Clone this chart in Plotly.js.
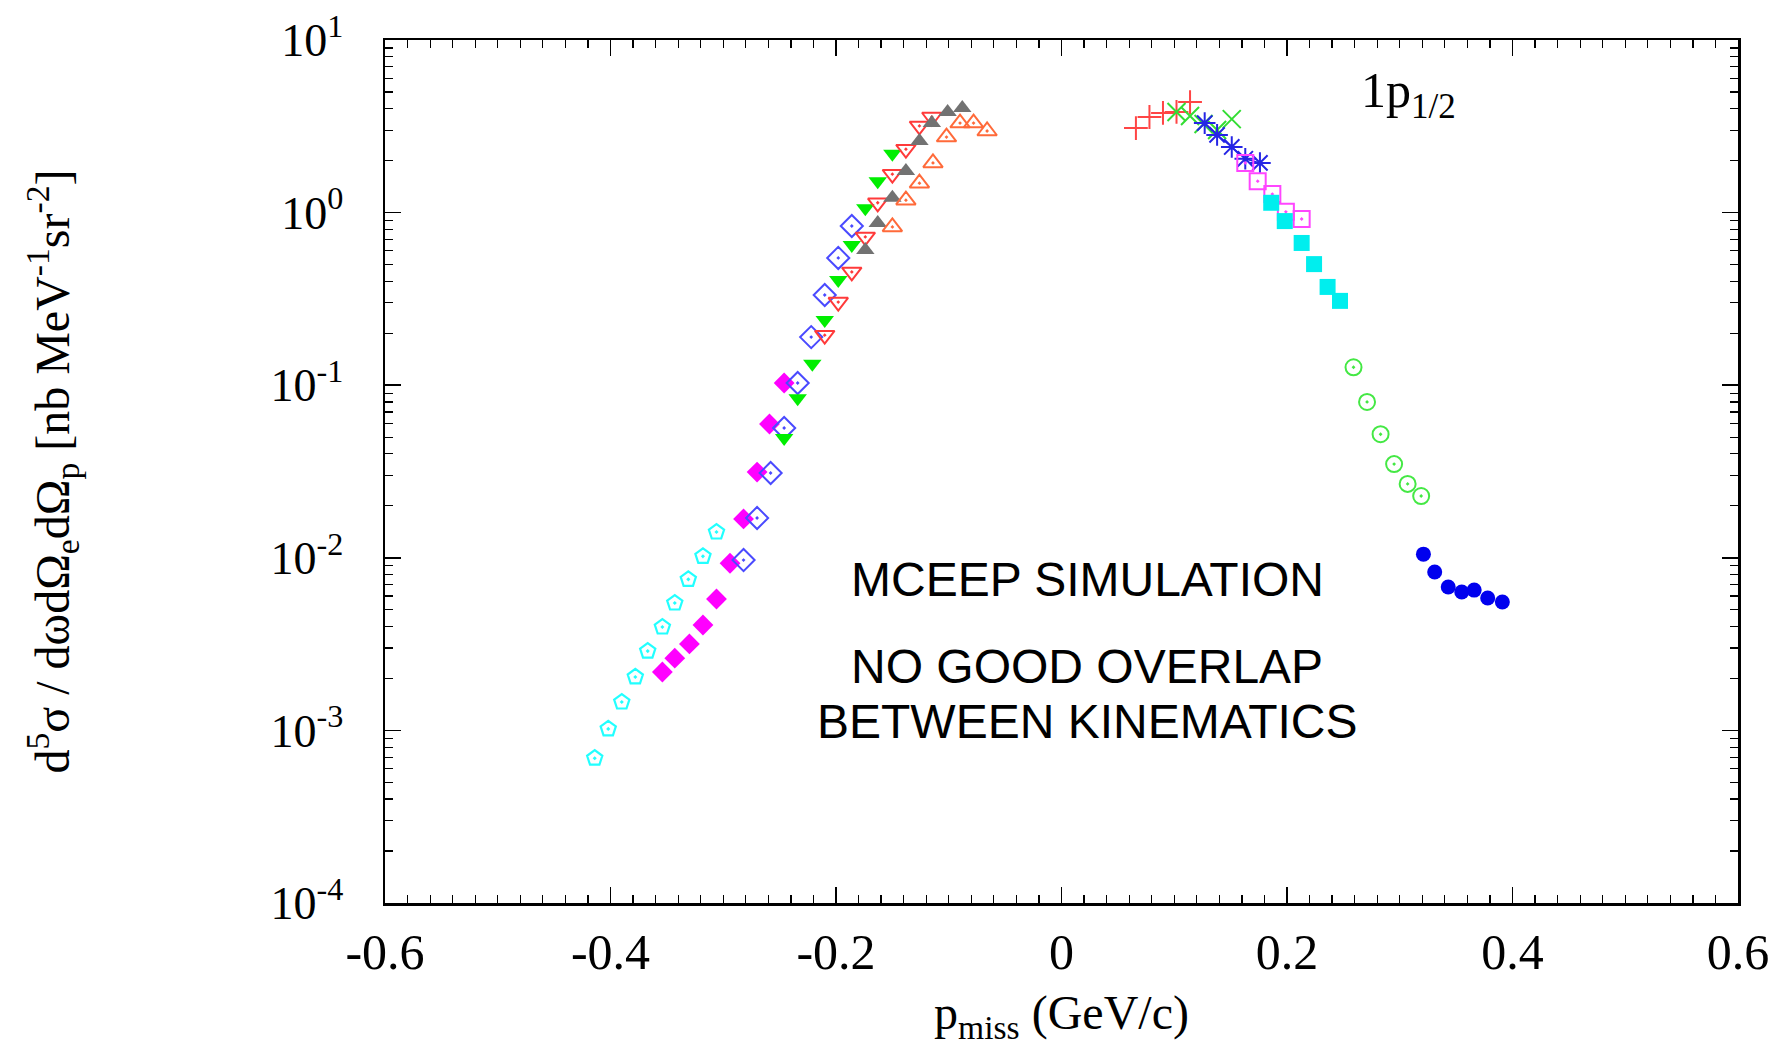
<!DOCTYPE html>
<html>
<head>
<meta charset="utf-8">
<script src="https://cdn.plot.ly/plotly-3.0.1.min.js"></script>
<style>html,body{margin:0;padding:0;background:#fff;}#chart{width:1785px;height:1046px;}</style>
</head>
<body>
<div id="chart"></div>
<script>
// ---- data (p_miss in GeV/c, cross section in nb MeV^-1 sr^-2) ----
var cyanPentX = [-0.414, -0.402, -0.390, -0.378, -0.367, -0.354, -0.343, -0.331, -0.318, -0.306];
var cyanPentY = [6.9e-4, 1.02e-3, 1.46e-3, 2.04e-3, 2.88e-3, 3.97e-3, 5.47e-3, 7.5e-3, 1.02e-2, 1.41e-2];

var magDiaX = [-0.354, -0.343, -0.330, -0.318, -0.306, -0.294, -0.282, -0.270, -0.259, -0.246];
var magDiaY = [2.18e-3, 2.62e-3, 3.17e-3, 4.08e-3, 5.77e-3, 9.3e-3, 1.68e-2, 3.14e-2, 5.96e-2, 0.103];

var blueDiaX = [-0.282, -0.270, -0.258, -0.246, -0.234, -0.222, -0.210, -0.198, -0.186];
var blueDiaY = [9.7e-3, 1.70e-2, 3.10e-2, 5.65e-2, 0.103, 0.190, 0.333, 0.546, 0.836];

var greenTriDX = [-0.246, -0.234, -0.221, -0.210, -0.198, -0.186, -0.174, -0.163, -0.150];
var greenTriDY = [4.94e-2, 8.4e-2, 0.133, 0.239, 0.407, 0.649, 1.06, 1.52, 2.19];

var redTriDX = [-0.210, -0.198, -0.186, -0.174, -0.163, -0.150, -0.138, -0.126, -0.115];
var redTriDY = [0.195, 0.303, 0.453, 0.723, 1.14, 1.67, 2.33, 3.18, 3.58];

var grayTriUX = [-0.174, -0.163, -0.150, -0.138, -0.126, -0.115, -0.101, -0.088];
var grayTriUY = [0.607, 0.871, 1.22, 1.74, 2.60, 3.30, 3.83, 4.04];

var orangeTriUX = [-0.150, -0.138, -0.126, -0.114, -0.102, -0.090, -0.078, -0.066];
var orangeTriUY = [0.826, 1.18, 1.48, 1.94, 2.74, 3.30, 3.30, 2.97];

var redPlusX = [0.066, 0.078, 0.090, 0.102, 0.114];
var redPlusY = [3.09, 3.58, 3.78, 3.83, 4.37];

var greenXX = [0.102, 0.114, 0.126, 0.138, 0.151];
var greenXY = [3.83, 3.63, 3.26, 3.01, 3.48];

var blueStarX = [0.127, 0.138, 0.151, 0.163, 0.176];
var blueStarY = [3.30, 2.82, 2.40, 2.05, 1.94];

var magSqX = [0.163, 0.174, 0.187, 0.199, 0.213];
var magSqY = [1.94, 1.52, 1.28, 1.01, 0.918];

var cyanSqX = [0.186, 0.198, 0.213, 0.224, 0.236, 0.247];
var cyanSqY = [1.14, 0.893, 0.667, 0.503, 0.371, 0.308];

var greenCircX = [0.259, 0.271, 0.283, 0.295, 0.307, 0.319];
var greenCircY = [0.127, 0.080, 0.052, 0.0349, 0.0268, 0.0228];

var blueCircX = [0.321, 0.331, 0.343, 0.355, 0.366, 0.378, 0.391];
var blueCircY = [0.0105, 0.00828, 0.00678, 0.00634, 0.0065, 0.00585, 0.00554];

var xTickVals = [-0.6, -0.4, -0.2, 0, 0.2, 0.4, 0.6];
var xTickText = ['-0.6', '-0.4', '-0.2', '0', '0.2', '0.4', '0.6'];
var yTickVals = [1e-4, 1e-3, 1e-2, 1e-1, 1, 10];
var yTickText = ['10<sup>-4</sup>', '10<sup>-3</sup>', '10<sup>-2</sup>', '10<sup>-1</sup>', '10<sup>0</sup>', '10<sup>1</sup>'];

function sc(x, y, symbol, color, size, lw, mode) {
  return {
    x: x, y: y, type: 'scatter', mode: mode || 'markers', showlegend: false,
    line: {color: color, width: 1.5},
    marker: {symbol: symbol, color: color, size: size, line: {color: color, width: lw}}
  };
}

var traces = [
  sc(cyanPentX, cyanPentY, 'pentagon-open-dot', '#22ffff', 16, 2.2),
  sc(magDiaX, magDiaY, 'diamond', '#ff00ff', 16, 0),
  sc(blueDiaX, blueDiaY, 'diamond-open-dot', '#4a4aff', 17, 2),
  sc(greenTriDX, greenTriDY, 'triangle-down', '#00ee00', 16, 0),
  sc(redTriDX, redTriDY, 'triangle-down-open-dot', '#ff3a3a', 17, 2),
  sc(grayTriUX, grayTriUY, 'triangle-up', '#727272', 16, 0),
  sc(orangeTriUX, orangeTriUY, 'triangle-up-open-dot', '#ff6a3a', 17, 2),
  sc(redPlusX, redPlusY, 'cross-thin-open', '#ff4545', 17, 2),
  sc(greenXX, greenXY, 'x-thin-open', '#33dd33', 18, 2),
  sc(blueStarX, blueStarY, 'asterisk-open', '#2525e5', 18, 2, 'lines+markers'),
  sc(magSqX, magSqY, 'square-open-dot', '#ff45ff', 16, 2),
  sc(cyanSqX, cyanSqY, 'square', '#00eeee', 16, 0),
  sc(greenCircX, greenCircY, 'circle-open-dot', '#44e844', 16, 2),
  sc(blueCircX, blueCircY, 'circle', '#0000ee', 15, 0)
];

var serif = 'Liberation Serif, Times New Roman, serif';
var sans = 'Liberation Sans, Arial, sans-serif';

function note(x, y, text, family, size, xanchor) {
  return {xref: 'paper', yref: 'paper', x: x, y: y, text: text, showarrow: false,
          xanchor: xanchor || 'center', yanchor: 'middle',
          font: {family: family, size: size, color: '#000'}};
}

var layout = {
  width: 1785, height: 1046,
  margin: {l: 385, r: 47, t: 40, b: 143, pad: 0},
  paper_bgcolor: '#fff', plot_bgcolor: '#fff',
  showlegend: false,
  xaxis: {
    range: [-0.6, 0.6], tickmode: 'array', tickvals: xTickVals, ticktext: xTickText,
    ticks: 'inside', ticklen: 16, tickwidth: 1.5, tickcolor: '#000',
    minor: {ticks: 'inside', ticklen: 8, tickwidth: 1.2, tickcolor: '#000', dtick: 0.02, tick0: 0},
    showline: true, mirror: 'ticks', linecolor: '#000', linewidth: 2.5,
    showgrid: false, zeroline: false,
    ticklabelstandoff: 3,
    tickfont: {family: serif, size: 50, color: '#000'},
    title: {text: 'p<sub>miss</sub> (GeV/c)', font: {family: serif, size: 48, color: '#000'}, standoff: 46}
  },
  yaxis: {
    type: 'log', range: [-4, 1], tickmode: 'array', tickvals: yTickVals, ticktext: yTickText,
    ticks: 'inside', ticklen: 16, tickwidth: 1.5, tickcolor: '#000',
    minor: {ticks: 'inside', ticklen: 8, tickwidth: 1.2, tickcolor: '#000', dtick: 'D1'},
    showline: true, mirror: 'ticks', linecolor: '#000', linewidth: 2.5,
    showgrid: false, zeroline: false,
    ticklabelstandoff: 30,
    tickfont: {family: serif, size: 46, color: '#000'},
    title: {text: 'd<sup>5</sup>σ / dωdΩ<sub>e</sub>dΩ<sub>p</sub> [nb MeV<sup>-1</sup>sr<sup>-2</sup>]',
            font: {family: serif, size: 48, color: '#000'}, standoff: 186}
  },
  annotations: [
    note(0.720, 0.938, '1p<sub>1/2</sub>', serif, 50, 'left'),
    note(0.519, 0.375, 'MCEEP SIMULATION', sans, 48),
    note(0.519, 0.274, 'NO GOOD OVERLAP', sans, 48),
    note(0.519, 0.210, 'BETWEEN KINEMATICS', sans, 48)
  ]
};

Plotly.newPlot('chart', traces, layout, {displayModeBar: false, staticPlot: true});
</script>
</body>
</html>
